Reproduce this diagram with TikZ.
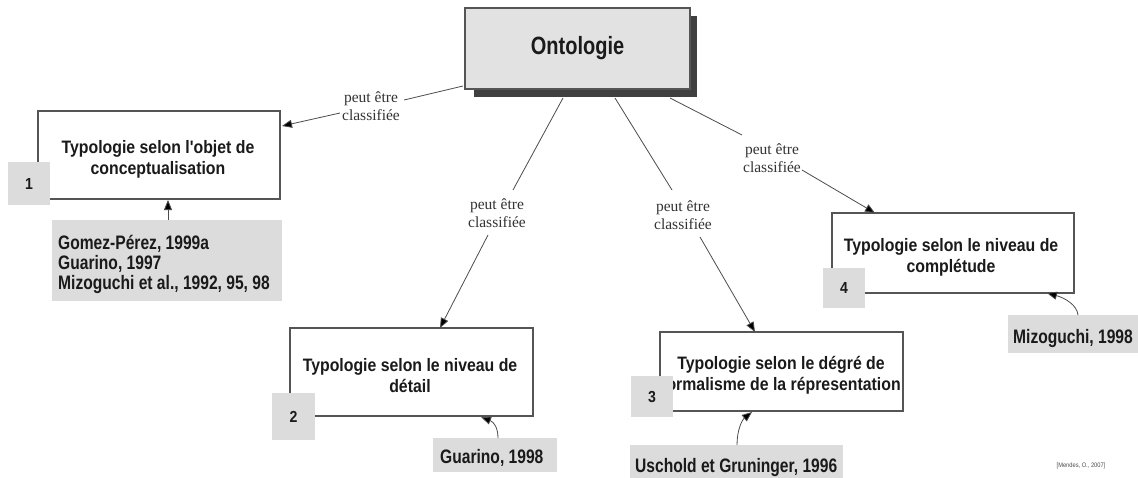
\documentclass[tikz,border=0pt]{standalone}
\usepackage{fontspec}
\setmainfont{Liberation Serif}
\newfontfamily\nar[FakeStretch=0.88]{Liberation Sans}
\newfontfamily\narc[FakeStretch=0.8]{Liberation Sans}
\newfontfamily\naro[FakeStretch=0.8]{Liberation Sans}
\usetikzlibrary{arrows.meta,calc}
\definecolor{boxgray}{HTML}{DCDCDC}
\definecolor{ontogray}{HTML}{E2E2E2}
\definecolor{shadowgray}{HTML}{404040}
\definecolor{edgegray}{HTML}{555555}
\definecolor{txt}{HTML}{1A1A1A}
\tikzset{
  typo/.style={draw=edgegray, line width=1.3pt, fill=white, inner sep=0pt},
  typotext/.style={align=center, inner sep=0pt, text=txt,
    font=\nar\bfseries\fontsize{18}{21}\selectfont},
  numbox/.style={fill=boxgray, inner sep=0pt, text=txt, font=\nar\bfseries\fontsize{16}{18}\selectfont},
  cite/.style={fill=boxgray, inner sep=0pt},
  citetext/.style={align=left, inner sep=0pt, text=txt, anchor=west,
    font=\narc\bfseries\fontsize{19.5}{20}\selectfont},
  lab/.style={font=\fontsize{15.5}{18}\selectfont, text=black!80, align=center, inner sep=1pt},
  conn/.style={draw=black!70, line width=0.8pt},
  arr/.style={conn, -{Triangle[length=10pt,width=8pt,fill=black]}}
}
\begin{document}
\begin{tikzpicture}[x=1pt,y=-1pt]
\useasboundingbox[fill=white] (0,0) rectangle (1138,477);
% Ontologie
\fill[shadowgray] (474,16) rectangle (697,97);
\node[draw=edgegray, line width=1.2pt, fill=ontogray, minimum width=225pt, minimum height=81pt,
  inner sep=0pt, text=txt, font=\naro\bfseries\fontsize{25}{28}\selectfont] (onto) at (577.5,48.5) {Ontologie};
% typology boxes
\node[typo, minimum width=242pt, minimum height=88pt] (t1) at (159,155) {};
\node[typo, minimum width=243pt, minimum height=88pt] (t2) at (411.5,372) {};
\node[typo, minimum width=243pt, minimum height=79pt] (t3) at (781.5,371.5) {};
\node[typo, minimum width=242pt, minimum height=80pt] (t4) at (953,253) {};
\node[typotext] (t1x) at (158,159.5) {Typologie selon l'objet de\\conceptualisation};
\node[typotext] (t2x) at (410,375.5) {Typologie selon le niveau de\\détail};
\node[typotext] (t3x) at (781,375) {Typologie selon le dégré de\\formalisme de la répresentation};
\node[typotext] (t4x) at (951,257.5) {Typologie selon le niveau de\\complétude};
% number boxes
\node[numbox, minimum width=42pt, minimum height=43pt] (n1) at (29,183.5) {1};
\node[numbox, minimum width=43pt, minimum height=47pt] (n2) at (293.5,416.5) {2};
\node[numbox, minimum width=42pt, minimum height=41pt] (n3) at (652,396.5) {3};
\node[numbox, minimum width=42pt, minimum height=40pt] (n4) at (844,288) {4};
% citation boxes
\node[cite, minimum width=230pt, minimum height=81pt] (c1) at (167,260.5) {};
\node[cite, minimum width=124pt, minimum height=34pt] (c2) at (495,455) {};
\node[cite, minimum width=213pt, minimum height=36pt] (c3) at (736.5,463) {};
\node[cite, minimum width=130pt, minimum height=38pt] (c4) at (1073,334) {};
\node[citetext] (c1x) at (58,264) {Gomez-Pérez, 1999a\\Guarino, 1997\\Mizoguchi et al., 1992, 95, 98};
\node[citetext] (c2x) at (440,458) {Guarino, 1998};
\node[citetext] (c3x) at (635,467.5) {Uschold et Gruninger, 1996};
\node[citetext] (c4x) at (1013,338) {Mizoguchi, 1998};
% labels
\node[lab] (l1) at (371,106.5) {peut être\\classifiée};
\node[lab] (l2) at (497,213) {peut être\\classifiée};
\node[lab] (l3) at (683,215) {peut être\\classifiée};
\node[lab] (l4) at (772,158) {peut être\\classifiée};
% connector points
\coordinate (o1) at (463,86);   \coordinate (l1a) at (404,100);
\coordinate (l1b) at (340,113); \coordinate (e1) at (282,126);
\coordinate (o2) at (563,98);   \coordinate (l2a) at (513,190);
\coordinate (l2b) at (488,235); \coordinate (e2) at (440,328);
\coordinate (o3) at (615,98);   \coordinate (l3a) at (672,190);
\coordinate (l3b) at (700,237); \coordinate (e3) at (755,332);
\coordinate (o4) at (670,98);   \coordinate (l4a) at (742,135);
\coordinate (l4b) at (802,170); \coordinate (e4) at (875,213);
\draw[conn] (o1) -- (l1a);
\draw[arr] (l1b) -- (e1);
\draw[conn] (o2) -- (l2a);
\draw[arr] (l2b) -- (e2);
\draw[conn] (o3) -- (l3a);
\draw[arr] (l3b) -- (e3);
\draw[conn] (o4) -- (l4a);
\draw[arr] (l4b) -- (e4);
% citation arrows
\coordinate (s1) at (168,220); \coordinate (f1) at (168,200);
\coordinate (s2) at (498,438); \coordinate (f2) at (481,417);
\coordinate (s3) at (737,445); \coordinate (f3) at (752,412);
\coordinate (s4) at (1078,315); \coordinate (f4) at (1047,293);
\draw[arr] (s1) -- (f1);
\draw[arr] (s2) .. controls (498,428) and (494,422) .. (f2);
\draw[arr] (s3) .. controls (737,430) and (742,420) .. (f3);
\draw[arr] (s4) .. controls (1077,305) and (1065,298) .. (f4);
% source note
\node[inner sep=0pt, text=black!70, font=\nar\fontsize{6.5}{8}\selectfont] (src) at (1081,466) {[Mendes, O., 2007]};
\end{tikzpicture}
\end{document}
